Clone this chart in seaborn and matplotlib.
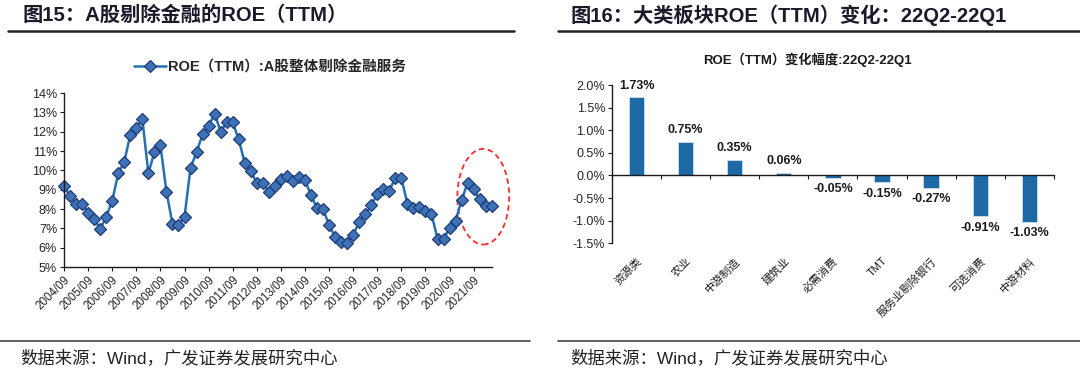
import numpy as np
import pandas as pd
import matplotlib
matplotlib.use('Agg')
import matplotlib.pyplot as plt
import seaborn as sns
from matplotlib.patches import Ellipse
from matplotlib.lines import Line2D
from matplotlib.ticker import FuncFormatter, MultipleLocator

# ---- data: left panel, quarterly ROE (TTM), 2004Q3 - 2022Q2
roe = [9.19, 8.69, 8.26, 8.26, 7.82, 7.51, 6.96, 7.60, 8.43, 9.85,
       10.45, 11.84, 12.22, 12.65, 9.85, 10.94, 11.30, 8.90, 7.25, 7.17,
       7.60, 10.14, 10.94, 11.87, 12.30, 12.93, 12.01, 12.48, 12.48, 11.61,
       10.37, 9.97, 9.33, 9.33, 8.90, 9.19, 9.54, 9.71, 9.45, 9.64,
       9.50, 8.72, 8.03, 8.00, 7.17, 6.56, 6.30, 6.25, 6.65, 7.34,
       7.72, 8.20, 8.76, 9.02, 8.95, 9.62, 9.62, 8.26, 8.03, 8.12,
       7.91, 7.74, 6.47, 6.47, 7.00, 7.39, 8.46, 9.36, 9.02, 8.50,
       8.15, 8.15]
quarters = pd.period_range('2004Q3', '2022Q2', freq='Q').strftime('%Y/%m')
year_labels = ['2004/09', '2005/09', '2006/09', '2007/09', '2008/09', '2009/09',
               '2010/09', '2011/09', '2012/09', '2013/09', '2014/09', '2015/09',
               '2016/09', '2017/09', '2018/09', '2019/09', '2020/09', '2021/09']
legend_label = 'ROE（TTM）:A股整体剔除金融服务'

# ---- data: right panel, ROE change by sector
sectors = ['资源类', '农业', '中游制造', '建筑业', '必需消费', 'TMT',
           '服务业剔除银行', '可选消费', '中游材料']
roe_change = [1.73, 0.75, 0.35, 0.06, -0.05, -0.15, -0.27, -0.91, -1.03]

df_line = pd.DataFrame({'quarter': quarters, 'roe': roe})
df_line['pos'] = np.arange(len(df_line))
df_bar = pd.DataFrame({'sector': sectors, 'change': roe_change})

sns.set_style('ticks')
plt.rcParams['font.family'] = ['Liberation Sans', 'Noto Sans CJK SC']
plt.rcParams['axes.unicode_minus'] = False

dark = '#1b1b1b'
fig = plt.figure(figsize=(10.8, 3.74), dpi=100)

# ---------------- left panel
ax1 = fig.add_axes([0.0593, 0.286, 0.396, 0.465])
sns.lineplot(data=df_line, x='pos', y='roe', ax=ax1, color='#2470B3', lw=1.8,
             marker='D', markersize=6, markerfacecolor='#3D72B6',
             markeredgecolor='#1F3C78', markeredgewidth=0.9, label=legend_label,
             clip_on=False)
ax1.set_xlim(0, len(roe) - 1)
ax1.set_ylim(5, 14)
ax1.yaxis.set_major_locator(MultipleLocator(1))
ax1.yaxis.set_major_formatter(FuncFormatter(lambda v, p: f'{v:.0f}%'))
ax1.set_xticks([quarters.get_loc(q) for q in year_labels])
ax1.set_xticklabels(year_labels, rotation=45, ha='right', rotation_mode='anchor')
ax1.tick_params(axis='x', labelsize=8.3, length=3, pad=2, color=dark)
ax1.tick_params(axis='y', labelsize=9, length=3, pad=2, color=dark)
ax1.set_xlabel('')
ax1.set_ylabel('')
for s in ['top', 'right']:
    ax1.spines[s].set_visible(False)
for s in ['left', 'bottom']:
    ax1.spines[s].set_color(dark)
    ax1.spines[s].set_linewidth(1)
ax1.legend(loc='center', bbox_to_anchor=(0.25, 0.821), bbox_transform=fig.transFigure,
           frameon=False, handlelength=2.2, handletextpad=0.1,
           prop={'weight': 'bold', 'size': 10.5})
ax1.add_patch(Ellipse((69.6, 8.64), 8.6, 4.95, fill=False, edgecolor='#FF2A2A',
                      linestyle=(0, (3, 2)), lw=1.3, clip_on=False))

# ---------------- right panel
ax2 = fig.add_axes([0.5667, 0.350, 0.409, 0.422])
sns.barplot(data=df_bar, x='sector', y='change', ax=ax2, color='#1D69A6',
            width=0.31, edgecolor='#C9DDF0', linewidth=0.6, saturation=1)
ax2.bar_label(ax2.containers[0], labels=[f'{v:.2f}%' for v in roe_change],
              padding=4, fontsize=9, fontweight='bold', color=dark)
ax2.set_xlim(-0.5, len(sectors) - 0.5)
ax2.set_ylim(-1.5, 2.0)
ax2.yaxis.set_major_locator(MultipleLocator(0.5))
ax2.yaxis.set_major_formatter(FuncFormatter(lambda v, p: f'{v:.1f}%'))
ax2.tick_params(axis='y', labelsize=9, length=3, pad=2, color=dark)
ax2.set_xlabel('')
ax2.set_ylabel('')
ax2.spines['bottom'].set_position(('data', 0))
ax2.set_xticks(np.arange(len(sectors) + 1) - 0.5)
ax2.set_xticklabels([])
ax2.tick_params(axis='x', length=3, color=dark)
for s in ['top', 'right']:
    ax2.spines[s].set_visible(False)
for s in ['left', 'bottom']:
    ax2.spines[s].set_color(dark)
    ax2.spines[s].set_linewidth(1)
sec = ax2.secondary_xaxis('bottom')
sec.set_xticks(range(len(sectors)))
sec.set_xticklabels(sectors, rotation=45, ha='right', rotation_mode='anchor',
                    fontsize=8, color=dark)
sec.tick_params(length=0, pad=9)
sec.spines['bottom'].set_visible(False)

# ---------------- titles, rules, sources
title_kw = dict(fontsize=14.6, fontweight='bold', color='#1a1a2a', va='center')
fig.text(0.0204, 0.96, '图15：A股剔除金融的ROE（TTM）', **title_kw)
fig.text(0.528, 0.96, '图16：大类板块ROE（TTM）变化：22Q2-22Q1', **title_kw)
fig.text(0.748, 0.84, 'ROE（TTM）变化幅度:22Q2-22Q1', ha='center', va='center',
         fontsize=9.5, fontweight='bold', color=dark)
src_kw = dict(fontsize=12.5, color='#222222', va='center')
fig.text(0.019, 0.043, '数据来源：Wind，广发证券发展研究中心', **src_kw)
fig.text(0.528, 0.043, '数据来源：Wind，广发证券发展研究中心', **src_kw)

for x0, x1 in [(8, 514), (558, 1080)]:
    fig.add_artist(Line2D([x0 / 1080, x1 / 1080], [1 - 31 / 374] * 2,
                          transform=fig.transFigure, color='#222222', lw=1.8))
for x0, x1 in [(0, 530), (558, 1080)]:
    fig.add_artist(Line2D([x0 / 1080, x1 / 1080], [1 - 341 / 374] * 2,
                          transform=fig.transFigure, color='#444444', lw=1.2))

fig.savefig('out.png', dpi=100)
